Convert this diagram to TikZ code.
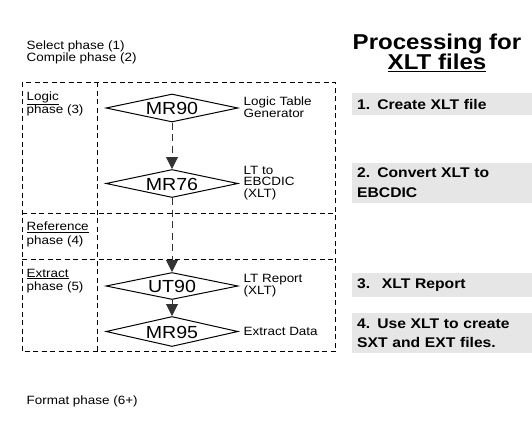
\documentclass[tikz,border=0pt]{standalone}
\usepackage{fontspec}
\setmainfont{Liberation Sans}[FakeStretch=1.12]
\usetikzlibrary{shapes.geometric,arrows.meta}
\definecolor{taskgray}{RGB}{230,230,230}
\newcommand{\thickul}[1]{\vtop{\hbox{#1}\kern1.2pt\hrule height 1.8pt}}
\newcommand{\tightlines}{\lineskiplimit=-20pt\relax}

\begin{document}
\begin{tikzpicture}
	[x=1pt,y=-1pt,
	frame/.style={black,line width=0.7pt,dash pattern=on 5pt off 3.5pt},
	prog/.style={diamond,draw=black,line width=1pt,aspect=6,inner sep=0pt,text height=13pt,text depth=0pt,minimum width=132pt,minimum height=28pt,font=\fontsize{17.5}{17.5}\selectfont},
	note/.style={anchor=west,inner sep=0pt,align=left,font=\fontsize{12}{11.5}\selectfont},
	phase/.style={note,font={\fontsize{12}{13.5}\selectfont\tightlines}},
	task/.style={anchor=west,fill=taskgray,text width=170pt,inner xsep=5pt,inner ysep=0pt,align=left,font=\bfseries\fontsize{14}{19.5}\selectfont},
	head/.style={inner sep=0pt,align=center,font={\bfseries\fontsize{21.5}{20}\selectfont\tightlines}},
	flow/.style={line width=1pt,black!80,-{Triangle[width=12pt,length=12pt]}},
	dflow/.style={flow,dash pattern=on 7pt off 4.5pt}]
	\useasboundingbox (0,0) rectangle (532,445);
	% phase frame
	\draw[frame] (22,82) rectangle (335,351.5);
	\draw[frame] (97,82) -- (97,351.5);
	\draw[frame] (22,213) -- (335,213);
	\draw[frame] (22,259) -- (335,259);
	
	\node[note] (sel) at (26.5,52.5) {Select phase (1)\\Compile phase (2)};
	\node[phase] (logic) at (26.5,104) {\underline{Logic}\\phase (3)};
	\node[phase] (refer) at (26.5,234.5) {\underline{Reference}\\phase (4)};
	\node[phase] (extr) at (26.5,281) {\underline{Extract}\\phase (5)};
	\node[note] (fmt) at (26.5,401) {Format phase (6+)};
	
	\node[prog] (mr90) at (172,108) {MR90};
	\node[prog] (mr76) at (172,183.5) {MR76};
	\node[prog,minimum height=27pt] (ut90) at (172,286) {UT90};
	\node[prog,minimum height=30pt] (mr95) at (172,331.5) {MR95};
	
	\node[note] (mr90txt) at (243.5,107) {Logic Table\\Generator};
	\node[note] (mr76txt) at (243.5,183) {LT to\\EBCDIC\\(XLT)};
	\node[note] (ut90txt) at (243.5,285.5) {LT Report\\(XLT)};
	\node[note] (mr95txt) at (243.5,331) {Extract Data};
	
	\draw[dflow] (mr90) -- (mr76);
	\draw[dflow] (mr76) -- (ut90);
	\draw[flow] (ut90) -- (mr95);
	
	\node[head] (title) at (437,53) {Processing for\\\thickul{XLT files}};
	\node[task,minimum height=22pt] (step1) at (352,104) {1. Create XLT file};
	\node[task,minimum height=40pt] (step2) at (352,182.5) {2. Convert XLT to\\EBCDIC};
	\node[task,minimum height=24pt] (step3) at (352,285) {3.~ XLT Report};
	\node[task,minimum height=40pt] (step4) at (352,333) {4. Use XLT to create\\SXT and EXT files.};
\end{tikzpicture}
\end{document}
